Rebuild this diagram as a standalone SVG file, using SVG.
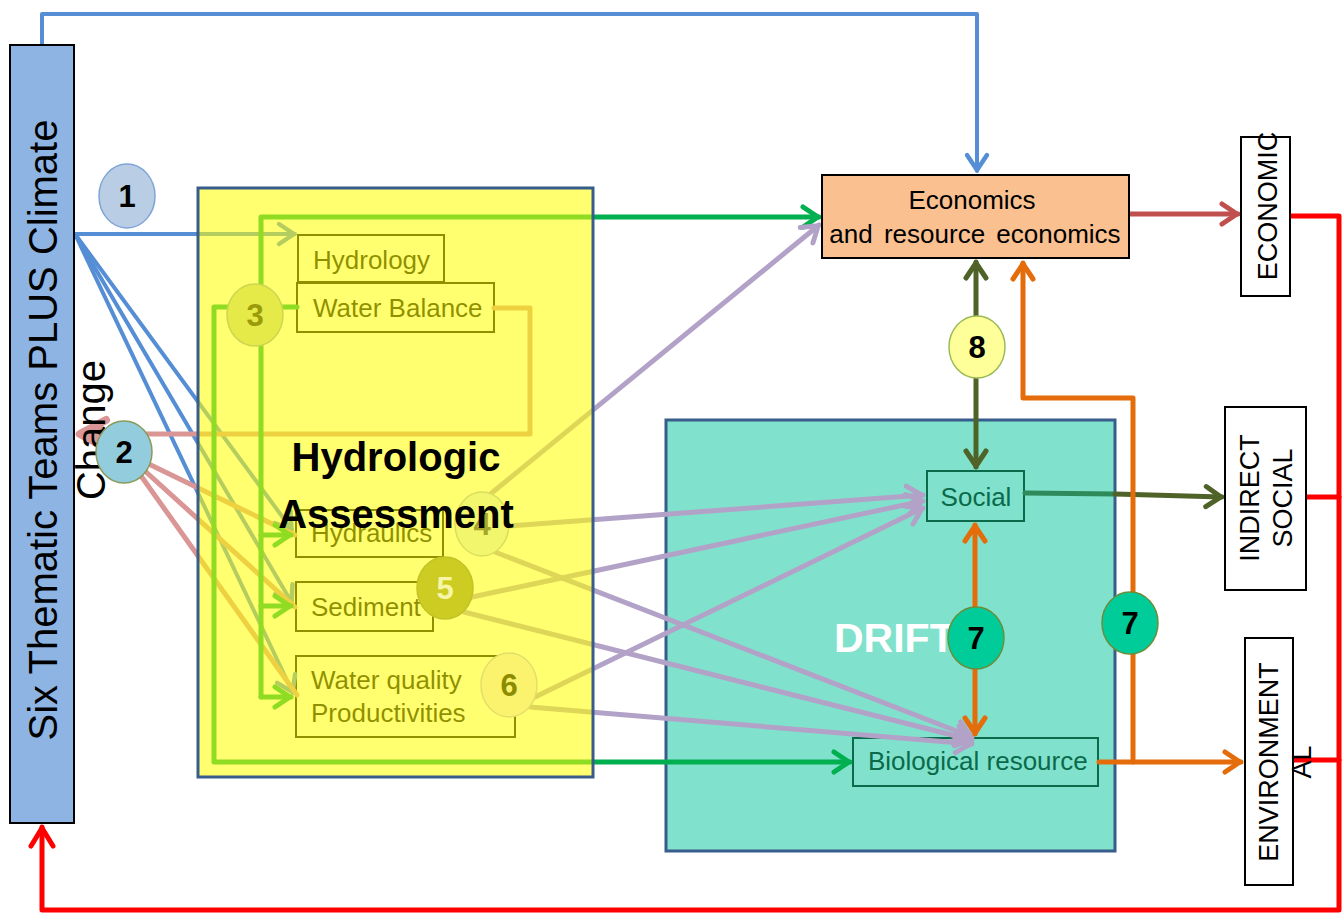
<svg xmlns="http://www.w3.org/2000/svg" width="1344" height="915" viewBox="0 0 1344 915">
  <style>
    .lbl { font-family: "Liberation Sans", Arial, sans-serif; }
    .num { font-family: "Liberation Sans", Arial, sans-serif; font-weight: bold; font-size: 31px; text-anchor: middle; }
    .sub { font-family: "Liberation Sans", Arial, sans-serif; font-size: 26px; fill: #000; }
    .subbox { fill: none; stroke: #000; stroke-width: 2; }
    .ln { fill: none; stroke-linecap: round; stroke-linejoin: round; }
    .blue { stroke: #558ed5; stroke-width: 4; }
    .green { stroke: #00b050; stroke-width: 5; }
    .purple { stroke: #b3a2c7; stroke-width: 5; }
    .pink { stroke: #d99694; stroke-width: 5; }
    .red { stroke: #ff0000; stroke-width: 5; }
    .brick { stroke: #c0504d; stroke-width: 5; }
    .olive { stroke: #4f6228; stroke-width: 5; }
    .orange { stroke: #e46c0a; stroke-width: 5; }
    .outbox { fill: #fff; stroke: #000; stroke-width: 2; }
    .drift-in { fill: none; stroke: #0a6a4a; stroke-width: 2; }
  </style>
  <defs>
    <marker id="m-blue" markerUnits="userSpaceOnUse" viewBox="-20 -15 24 30" markerWidth="24" markerHeight="30" refX="1" refY="0" orient="auto-start-reverse">
      <path d="M-15,-10 L0,0 L-15,10" fill="none" stroke="#558ed5" stroke-width="4.5" stroke-linecap="round" stroke-linejoin="round"/>
    </marker>
    <marker id="m-green" markerUnits="userSpaceOnUse" viewBox="-20 -15 24 30" markerWidth="24" markerHeight="30" refX="1" refY="0" orient="auto-start-reverse">
      <path d="M-15,-10 L0,0 L-15,10" fill="none" stroke="#00b050" stroke-width="5" stroke-linecap="round" stroke-linejoin="round"/>
    </marker>
    <marker id="m-purple" markerUnits="userSpaceOnUse" viewBox="-20 -15 24 30" markerWidth="24" markerHeight="30" refX="1" refY="0" orient="auto-start-reverse">
      <path d="M-15,-10 L0,0 L-15,10" fill="none" stroke="#b3a2c7" stroke-width="5" stroke-linecap="round" stroke-linejoin="round"/>
    </marker>
    <marker id="m-red" markerUnits="userSpaceOnUse" viewBox="-22 -15 26 30" markerWidth="26" markerHeight="30" refX="1" refY="0" orient="auto-start-reverse">
      <path d="M-18,-11 L0,0 L-18,11" fill="none" stroke="#ff0000" stroke-width="5" stroke-linecap="round" stroke-linejoin="round"/>
    </marker>
    <marker id="m-brick" markerUnits="userSpaceOnUse" viewBox="-20 -15 24 30" markerWidth="24" markerHeight="30" refX="1" refY="0" orient="auto-start-reverse">
      <path d="M-15,-10 L0,0 L-15,10" fill="none" stroke="#c0504d" stroke-width="5" stroke-linecap="round" stroke-linejoin="round"/>
    </marker>
    <marker id="m-olive" markerUnits="userSpaceOnUse" viewBox="-20 -15 24 30" markerWidth="24" markerHeight="30" refX="1" refY="0" orient="auto-start-reverse">
      <path d="M-15,-10 L0,0 L-15,10" fill="none" stroke="#4f6228" stroke-width="5" stroke-linecap="round" stroke-linejoin="round"/>
    </marker>
    <marker id="m-orange" markerUnits="userSpaceOnUse" viewBox="-20 -15 24 30" markerWidth="24" markerHeight="30" refX="1" refY="0" orient="auto-start-reverse">
      <path d="M-15,-10 L0,0 L-15,10" fill="none" stroke="#e46c0a" stroke-width="5" stroke-linecap="round" stroke-linejoin="round"/>
    </marker>
    <marker id="m-pink" markerUnits="userSpaceOnUse" viewBox="-32 -20 36 40" markerWidth="36" markerHeight="40" refX="2" refY="0" orient="auto-start-reverse">
      <path d="M-26,-14 L0,0 L-26,14" fill="none" stroke="#d99694" stroke-width="8" stroke-linecap="round" stroke-linejoin="round"/>
      <path d="M-22,-8 L-2,0 L-22,8 Z" fill="#d99694"/>
    </marker>
  </defs>

  <rect width="1344" height="915" fill="#fff"/>

  <!-- DRIFT assessment box -->
  <g id="drift">
    <rect x="666" y="420" width="449" height="431" fill="#80e2cc" stroke="#385d8a" stroke-width="3"/>
    <text x="834" y="652" class="lbl" font-size="41" font-weight="bold" fill="#fff">DRIFT</text>
  </g>

  <g id="social">
    <rect x="927" y="471" width="97" height="50" class="drift-in"/>
    <text x="976" y="506" class="lbl" font-size="26" fill="#0a6a4a" text-anchor="middle">Social</text>
  </g>

  <g id="biological">
    <rect x="853" y="738" width="245" height="48" class="drift-in"/>
    <text x="868" y="770" class="lbl" font-size="26" fill="#0a6a4a">Biological resource</text>
  </g>

  <!-- component boxes of the hydrologic assessment (sit under the yellow wash) -->
  <g id="hydrology">
    <rect x="298" y="235" width="146" height="47" class="subbox"/>
    <text x="313" y="269" class="sub">Hydrology</text>
  </g>
  <g id="water-balance">
    <rect x="297" y="283" width="197" height="49" class="subbox"/>
    <text x="313" y="317" class="sub">Water Balance</text>
  </g>
  <g id="hydraulics">
    <rect x="296" y="510" width="147" height="47" class="subbox"/>
    <text x="311" y="542" class="sub">Hydraulics</text>
  </g>
  <g id="sediment">
    <rect x="296" y="582" width="137" height="49" class="subbox"/>
    <text x="311" y="616" class="sub">Sediment</text>
  </g>
  <g id="water-quality">
    <rect x="296" y="656" width="219" height="81" class="subbox"/>
    <text x="311" y="689" class="sub">Water quality</text>
    <text x="311" y="722" class="sub">Productivities</text>
  </g>

  <!-- connectors -->
  <g id="connectors">
    <!-- climate teams to economics, over the top -->
    <path class="ln blue" d="M42,45 V14 H977 V171" marker-end="url(#m-blue)"/>
    <!-- climate teams to hydrologic components -->
    <path class="ln blue" d="M75,234 H295" marker-end="url(#m-blue)"/>
    <path class="ln blue" d="M75,234 L292,530" marker-end="url(#m-blue)"/>
    <path class="ln blue" d="M75,234 L292,603" marker-end="url(#m-blue)"/>
    <path class="ln blue" d="M75,234 L293,693" marker-end="url(#m-blue)"/>

    <!-- team 2 links -->
    <path class="ln pink" d="M124,452 L295,535"/>
    <path class="ln pink" d="M124,452 L295,607"/>
    <path class="ln pink" d="M124,452 L297,695"/>
    <path class="ln pink" d="M494,308 H530 V434 H78" marker-end="url(#m-pink)"/>

    <!-- hydrologic outputs -->
    <path class="ln green" d="M261,697 V217 H819" marker-end="url(#m-green)"/>
    <path class="ln green" d="M261,535 H291" marker-end="url(#m-green)"/>
    <path class="ln green" d="M261,606 H291" marker-end="url(#m-green)"/>
    <path class="ln green" d="M261,697 H291" marker-end="url(#m-green)"/>
    <path class="ln green" d="M297,307 H214 V762 H850" marker-end="url(#m-green)"/>

    <!-- hydrologic components to economics and DRIFT -->
    <path class="ln purple" d="M488,496 L819,225" marker-end="url(#m-purple)"/>
    <path class="ln purple" d="M509,526 L923,495" marker-end="url(#m-purple)"/>
    <path class="ln purple" d="M495,552 L972,737" marker-end="url(#m-purple)"/>
    <path class="ln purple" d="M472,597 L923,501" marker-end="url(#m-purple)"/>
    <path class="ln purple" d="M464,612 L972,740" marker-end="url(#m-purple)"/>
    <path class="ln purple" d="M535,697 L923,508" marker-end="url(#m-purple)"/>
    <path class="ln purple" d="M530,707 L972,744" marker-end="url(#m-purple)"/>

    <!-- economics to outputs -->
    <path class="ln brick" d="M1130,214 H1238" marker-end="url(#m-brick)"/>
    <path class="ln olive" d="M976,262 V467" marker-start="url(#m-olive)" marker-end="url(#m-olive)"/>
    <path class="ln" stroke="#2e8a5a" stroke-width="5" d="M1025,493 L1115,494"/>
    <path class="ln olive" d="M1115,494 L1222,497" marker-end="url(#m-olive)"/>
    <path class="ln orange" d="M975,525 V734" marker-start="url(#m-orange)" marker-end="url(#m-orange)"/>
    <path class="ln orange" d="M1099,762 H1241" marker-end="url(#m-orange)"/>
    <path class="ln orange" d="M1133,762 V398 H1023 V263" marker-end="url(#m-orange)"/>

    <!-- feedback to the thematic teams -->
    <path class="ln red" d="M1291,216 H1339 V910 H42 V827" marker-end="url(#m-red)"/>
    <path class="ln red" d="M1307,497 H1339"/>
    <path class="ln red" d="M1294,760 H1339"/>
  </g>

  <!-- hydrologic assessment: translucent yellow wash over its contents -->
  <g id="hydrologic-assessment">
    <rect x="198" y="188" width="395" height="589" fill="#ffff00" fill-opacity="0.56"/>
    <rect x="198" y="188" width="395" height="589" fill="none" stroke="#385d8a" stroke-width="3"/>
  </g>

  <g id="circle-3">
    <ellipse cx="255" cy="315" rx="28" ry="31" fill="#e5ea48" stroke="#cdd650" stroke-width="1.5"/>
    <text x="255" y="326" class="num" fill="#9a9a0a">3</text>
  </g>
  <g id="circle-4">
    <ellipse cx="482" cy="524" rx="27" ry="32" fill="#f2f66c" stroke="#d9de5e" stroke-width="1.5"/>
    <text x="482" y="535" class="num" fill="#a6a62a">4</text>
  </g>
  <g id="circle-5">
    <ellipse cx="445" cy="588" rx="28" ry="31" fill="#cccc22" stroke="#c3c326" stroke-width="1.5"/>
    <text x="445" y="599" class="num" fill="#f6f6a6">5</text>
  </g>
  <g id="circle-6">
    <ellipse cx="509" cy="685" rx="28" ry="32" fill="#fbf26e" stroke="#e2de6a" stroke-width="1.5"/>
    <text x="509" y="696" class="num" fill="#8c8c00">6</text>
  </g>

  <g id="hydro-title">
    <text x="396" y="471" class="lbl" font-size="40" font-weight="bold" text-anchor="middle">Hydrologic</text>
    <text x="396" y="528" class="lbl" font-size="40" font-weight="bold" text-anchor="middle">Assessment</text>
  </g>

  <!-- thematic teams column -->
  <g id="thematic-teams">
    <rect x="10" y="45" width="64" height="778" fill="#8eb4e3" stroke="#000" stroke-width="2"/>
    <g transform="translate(57,430) rotate(-90)">
      <text x="0" y="0" class="lbl" font-size="40" text-anchor="middle">Six Thematic  Teams PLUS Climate</text>
      <text x="0" y="48" class="lbl" font-size="40" text-anchor="middle">Change</text>
    </g>
  </g>

  <g id="circle-1">
    <ellipse cx="127" cy="196" rx="28" ry="32" fill="#b9cde5" stroke="#7fa5d8" stroke-width="1.5"/>
    <text x="127" y="207" class="num" fill="#000">1</text>
  </g>
  <g id="circle-2">
    <ellipse cx="124" cy="452" rx="28" ry="31" fill="#93cddd" stroke="#8a9a5b" stroke-width="1.5"/>
    <text x="124" y="463" class="num" fill="#000">2</text>
  </g>

  <g id="economics">
    <rect x="822" y="175" width="307" height="83" fill="#fac090" stroke="#000" stroke-width="2"/>
    <text x="972" y="209" class="lbl" font-size="26" text-anchor="middle">Economics</text>
    <text x="975" y="243" class="lbl" font-size="26" text-anchor="middle" word-spacing="4">and resource economics</text>
  </g>

  <g id="circle-8">
    <ellipse cx="977" cy="347" rx="28" ry="31" fill="#ffff99" stroke="#9bbb59" stroke-width="1.5"/>
    <text x="977" y="358" class="num" fill="#000">8</text>
  </g>
  <g id="circle-7a">
    <ellipse cx="976" cy="638" rx="28" ry="31" fill="#00cc99" stroke="#6b8e3b" stroke-width="1.5"/>
    <text x="976" y="649" class="num" fill="#000">7</text>
  </g>
  <g id="circle-7b">
    <ellipse cx="1130" cy="623" rx="28" ry="31" fill="#00cc99" stroke="#6b8e3b" stroke-width="1.5"/>
    <text x="1130" y="634" class="num" fill="#000">7</text>
  </g>

  <!-- outcome boxes -->
  <g id="out-economic">
    <rect x="1241" y="137" width="49" height="159" class="outbox"/>
    <text transform="translate(1277,206) rotate(-90)" class="lbl" font-size="27" text-anchor="middle">ECONOMIC</text>
  </g>
  <g id="out-social">
    <rect x="1225" y="407" width="81" height="183" class="outbox"/>
    <g transform="translate(1259,498) rotate(-90)">
      <text x="0" y="0" class="lbl" font-size="27" text-anchor="middle">INDIRECT</text>
      <text x="0" y="33" class="lbl" font-size="27" text-anchor="middle">SOCIAL</text>
    </g>
  </g>
  <g id="out-environmental">
    <rect x="1245" y="638" width="48" height="247" class="outbox"/>
    <g transform="translate(1278,762) rotate(-90)">
      <text x="0" y="0" class="lbl" font-size="27" text-anchor="middle">ENVIRONMENT</text>
      <text x="0" y="33" class="lbl" font-size="27" text-anchor="middle">AL</text>
    </g>
  </g>
</svg>
